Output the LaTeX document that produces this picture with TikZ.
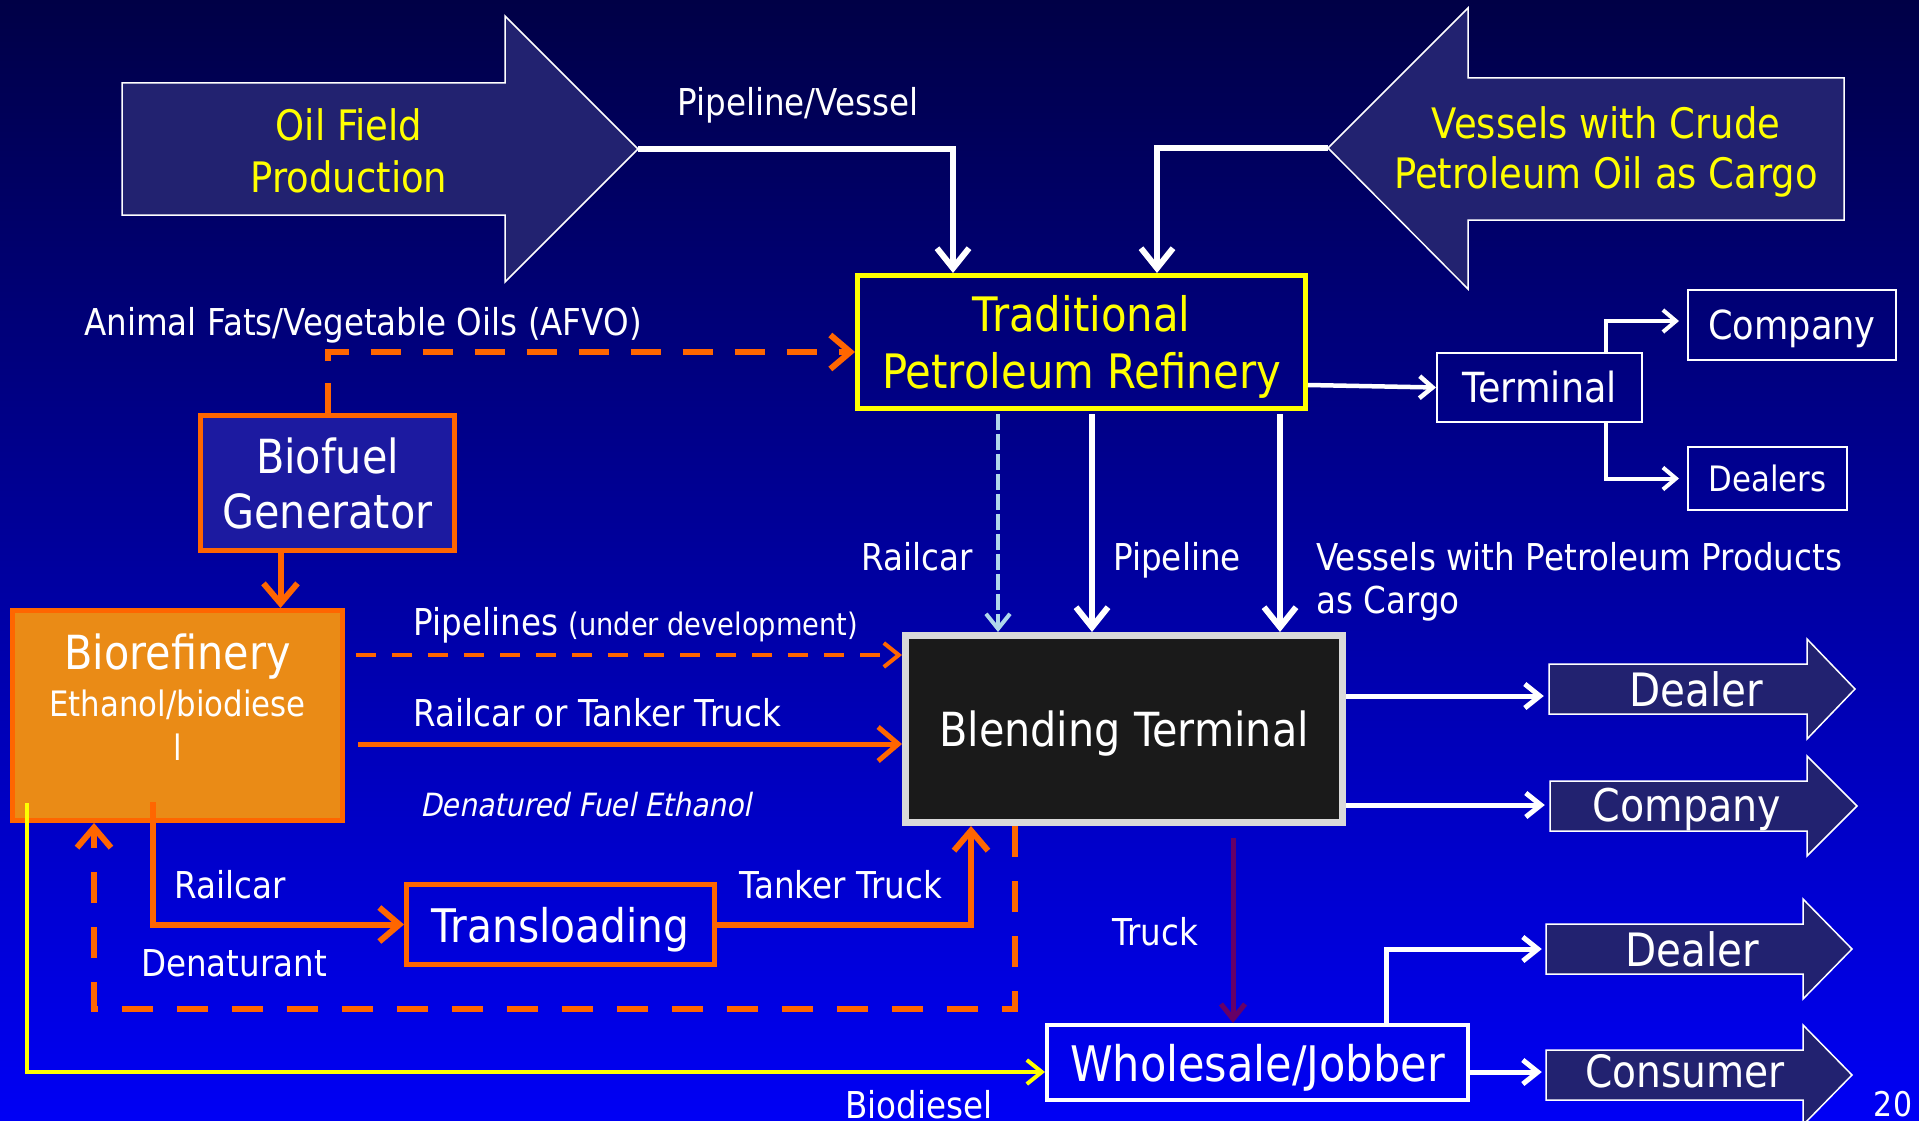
\documentclass[tikz,border=0pt]{standalone}
\usepackage{fontspec}
\setmainfont{DejaVu Sans}[FakeStretch=0.88]
\newfontfamily\slfont{DejaVu Sans}[FakeStretch=0.88,FakeSlant=0.2]
\usetikzlibrary{arrows.meta,calc}
\definecolor{bgtop}{RGB}{0,0,70}
\definecolor{bgbot}{RGB}{0,0,245}
\definecolor{blockfill}{RGB}{34,34,112}
\definecolor{orng}{RGB}{255,102,0}
\definecolor{biorefill}{RGB}{234,139,22}
\definecolor{biofuelfill}{RGB}{28,26,160}
\definecolor{blendfill}{RGB}{26,26,26}
\definecolor{blendedge}{RGB}{217,217,217}
\definecolor{truckpurple}{RGB}{102,0,102}
\definecolor{railblue}{RGB}{175,215,235}
\definecolor{yel}{RGB}{255,255,0}
\newcommand{\fs}[2]{\fontsize{#1}{#2}\selectfont}
\begin{document}
\begin{tikzpicture}[x=1pt,y=-1pt,
  blockarrow/.style={fill=blockfill, draw=white, line width=1.5pt, line join=miter},
  box/.style={rectangle, inner sep=0pt, align=center, text=white},
  lbl/.style={text=white, inner sep=0pt, font=\fs{37}{43}, text height=27pt, text depth=0pt},
  bigtip/.style={-{Straight Barb[length=20pt,width=32pt]}},
  otip/.style={-{Straight Barb[length=20pt,width=34pt]}},
  midtip/.style={-{Straight Barb[length=15pt,width=24pt]}},
  smalltip/.style={-{Straight Barb[length=13pt,width=22pt]}},
  wline/.style={draw=white, line width=6pt},
  oline/.style={draw=orng, line width=6pt},
]
% background
\fill[top color=bgtop, bottom color=bgbot] (0,0) rectangle (1919,1121);
\useasboundingbox (0,0) rectangle (1919,1121);

% block arrows
\draw[blockarrow] (122,83) -- (505,83) -- (505,16) -- (638,149) -- (505,282) -- (505,215) -- (122,215) -- cycle;
\coordinate (oiltip) at (638,149);
\draw[blockarrow] (1844,78) -- (1468,78) -- (1468,8) -- (1328,148) -- (1468,289) -- (1468,220) -- (1844,220) -- cycle;
\coordinate (vestip) at (1328,148);
\draw[blockarrow] (1549,664) -- (1807,664) -- (1807,639) -- (1855,689) -- (1807,739) -- (1807,714) -- (1549,714) -- cycle;
\draw[blockarrow] (1550,781) -- (1807,781) -- (1807,756) -- (1857,806) -- (1807,856) -- (1807,831) -- (1550,831) -- cycle;
\draw[blockarrow] (1546,924) -- (1803,924) -- (1803,899) -- (1852,949) -- (1803,999) -- (1803,974) -- (1546,974) -- cycle;
\draw[blockarrow] (1546,1050) -- (1803,1050) -- (1803,1025) -- (1852,1075) -- (1803,1125) -- (1803,1100) -- (1546,1100) -- cycle;

% block arrow texts
\node[box, text=yel, font=\fs{42}{52}] (oil) at (349,151) {Oil Field\\Production};
\node[box, text=yel, font=\fs{42}{50}] (vescargo) at (1606,152) {Vessels with Crude\\Petroleum Oil as Cargo};
\node[box, font=\fs{46}{52}, minimum width=294pt] (dealerA) at (1696,689) {Dealer};
\node[box, font=\fs{45}{52}, text depth=0pt, minimum width=274pt] (companyB) at (1687,805) {Company};
\node[box, font=\fs{46}{52}, minimum width=292pt] (dealerC) at (1692,949) {Dealer};
\node[box, font=\fs{44.5}{52}, minimum width=278pt] (consumer) at (1685,1071) {Consumer};

% boxes
\node[box, draw=yel, line width=5pt, minimum width=448pt, minimum height=133pt, text=yel,
      font=\fs{47.5}{57}, text depth=0pt] (refinery) at (1081.5,342) {Traditional\\Petroleum Refinery};
\node[box, draw=white, line width=2pt, minimum width=205pt, minimum height=69pt, font=\fs{41.5}{48}] (terminal) at (1539.5,387.5) {Terminal};
\node[box, draw=white, line width=2pt, minimum width=208pt, minimum height=70pt, font=\fs{40}{48}, text depth=0pt] (companyT) at (1792,325) {Company};
\node[box, draw=white, line width=2pt, minimum width=159pt, minimum height=63pt, font=\fs{35}{42}] (dealers) at (1767.5,478.5) {Dealers};
\node[box, fill=blendfill, draw=blendedge, line width=7pt, minimum width=437pt, minimum height=187pt,
      font=\fs{47}{54}, text depth=0pt] (blending) at (1124,729) {Blending Terminal};
\node[box, fill=biofuelfill, draw=orng, line width=5pt, minimum width=254pt, minimum height=135pt,
      font=\fs{47}{55}] (biofuel) at (327.5,483) {Biofuel\\Generator};
\node[box, fill=biorefill, draw=orng, line width=5pt, minimum width=330pt, minimum height=210pt] (biorefinery) at (177.5,715.5) {};
\node[text=white, inner sep=0pt, anchor=base, font=\fs{47}{52}] (bioA) at (177.5,669) {Biorefinery};
\node[text=white, inner sep=0pt, anchor=base, font=\fs{35}{44}] (bioB) at (177.5,716) {Ethanol/biodiese};
\node[text=white, inner sep=0pt, anchor=base, font=\fs{35}{44}] (bioC) at (177.5,760) {l};
\node[box, draw=orng, line width=5pt, minimum width=308pt, minimum height=80pt, font=\fs{46.3}{52}, text depth=0pt] (transloading) at (560.5,924.5) {Transloading};
\node[box, draw=white, line width=4pt, minimum width=421pt, minimum height=75pt, font=\fs{49}{56}, text depth=0pt] (wholesale) at (1257.5,1062.5) {Wholesale/Jobber};

% labels
\node[lbl] (lPV) at (798,102) {Pipeline/Vessel};
\node[lbl] (lAFVO) at (363,322) {Animal Fats/Vegetable Oils (AFVO)};
\node[lbl] (lRail1) at (917,557) {Railcar};
\node[lbl] (lPipe) at (1177,557) {Pipeline};
\node[text=white, inner sep=0pt, font=\fs{37}{43}, align=left, anchor=west] (lVPP) at (1316,582) {Vessels with Petroleum Products\\as Cargo};
\node[lbl] (lPipes) at (636,622) {Pipelines {\fs{31}{36}(under development)}};
\node[lbl] (lRT) at (597,713) {Railcar or Tanker Truck};
\node[lbl, font=\slfont\fs{32}{38}] (lDFE) at (586,803) {Denatured Fuel Ethanol};
\node[lbl] (lRail2) at (230,885) {Railcar};
\node[lbl] (lDen) at (234,963) {Denaturant};
\node[lbl] (lTT) at (841,885) {Tanker Truck};
\node[lbl] (lTruck) at (1155,932) {Truck};
\node[lbl] (lBio) at (919,1105) {Biodiesel};
\node[lbl, font=\fs{34}{40}] (pnum) at (1893,1103) {20};

% connectors: crude supply
\draw[wline, bigtip] (oiltip) -| ([xshift=-128.5pt]refinery.north);
\draw[wline, bigtip] (vestip) -| ([xshift=75.5pt]refinery.north);

% AFVO
\draw[oline, dash pattern=on 30pt off 22pt, otip] (biofuel.north) |- ([yshift=-10pt]refinery.west);
% biofuel -> biorefinery
\draw[oline, otip] ([xshift=-47pt]biofuel.south) -- ([xshift=-47pt]biofuel.south |- biorefinery.north);

% biorefinery -> blending
\coordinate (p1) at ([shift={(11pt,60.5pt)}]biorefinery.east);
\draw[oline, line width=4pt, dash pattern=on 20pt off 16pt, midtip] (p1) -- (p1 -| blending.west);
\coordinate (p2) at ([shift={(13pt,-28.5pt)}]biorefinery.east);
\draw[oline, line width=5pt, otip] (p2) -- (p2 -| blending.west);
\draw[oline, otip] ([shift={(-24.5pt,21pt)}]biorefinery.south) |- (transloading.west);
\draw[oline, otip] (transloading.east) -| ([xshift=-153pt]blending.south);
\draw[oline, dash pattern=on 31pt off 24pt, otip] ([xshift=-109pt]blending.south) -- ++(0,183) -| ([xshift=-83.5pt]biorefinery.south);

% biodiesel
\draw[draw=yel, line width=4pt, midtip] ([shift={(-150.5pt,20pt)}]biorefinery.south) |- ([yshift=-9.5pt]wholesale.west);

% truck
\coordinate (p3) at ([shift={(109pt,-12pt)}]blending.south);
\draw[draw=truckpurple, line width=5pt, midtip] (p3) -- (p3 |- wholesale.north);

% refinery -> blending
\coordinate (q1) at ([shift={(-83.5pt,-3pt)}]refinery.south);
\coordinate (q2) at ([shift={(10.5pt,-3pt)}]refinery.south);
\coordinate (q3) at ([shift={(198.5pt,-3pt)}]refinery.south);
\draw[draw=railblue, line width=4pt, dash pattern=on 16pt off 4pt, midtip] (q1) -- (q1 |- blending.north);
\draw[wline, bigtip] (q2) -- (q2 |- blending.north);
\draw[wline, bigtip] (q3) -- (q3 |- blending.north);

% refinery -> terminal -> company/dealers
\draw[draw=white, line width=4.5pt, smalltip] ([yshift=-43pt]refinery.east) -- (terminal.west);
\draw[draw=white, line width=4pt, smalltip] ([xshift=66.5pt]terminal.north) |- ([shift={(-8pt,4pt)}]companyT.west);
\draw[draw=white, line width=4pt, smalltip] ([xshift=66.5pt]terminal.south) |- ([xshift=-8pt]dealers.west);

% blending -> dealer/company
\coordinate (r1) at ([yshift=33pt]blending.east);
\draw[draw=white, line width=5pt, midtip] (r1) -- ([xshift=-5pt]r1 -| dealerA.west);
\coordinate (r2) at ([yshift=-76pt]blending.east);
\draw[draw=white, line width=5pt, midtip] (r2) -- ([xshift=-5pt]r2 -| companyB.west);

% wholesale -> dealer/consumer
\draw[draw=white, line width=5pt, midtip] ([xshift=128.5pt]wholesale.north) |- ([xshift=-4pt]dealerC.west);
\coordinate (r3) at ([yshift=-9.5pt]wholesale.east);
\draw[draw=white, line width=5pt, midtip] (r3) -- ([xshift=-4pt]r3 -| consumer.west);
\end{tikzpicture}
\end{document}
